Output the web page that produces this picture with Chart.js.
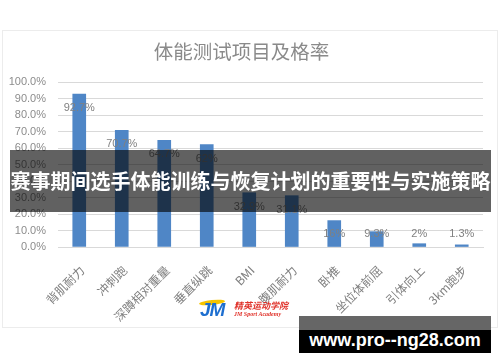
<!DOCTYPE html>
<html>
<head>
<meta charset="utf-8">
<script src="https://cdn.jsdelivr.net/npm/chart.js@4/dist/chart.umd.min.js"></script>
<style>
html,body{margin:0;padding:0;background:#fff;width:500px;height:362px;overflow:hidden;}
#wrap{position:relative;width:500px;height:362px;}
#c{position:absolute;left:0;top:0;}
.banner{position:absolute;left:10px;top:150px;width:481px;height:62px;background:rgba(0,0,0,0.62);color:#fff;font-family:"Noto Sans CJK SC",sans-serif;font-weight:bold;font-size:20px;line-height:62px;text-align:center;white-space:nowrap;letter-spacing:0;}
.wm-top{position:absolute;left:299px;top:316px;width:192px;height:14px;background:#666;}
.wm{position:absolute;left:299px;top:330px;width:192px;height:23px;background:#000;color:#fff;font-family:"Liberation Sans",Arial,sans-serif;font-weight:bold;font-size:18px;line-height:20px;text-align:center;white-space:nowrap;}
.logo{position:absolute;left:199px;top:299px;width:100px;height:20px;}
.logo .jm{position:absolute;left:1px;top:1px;font-family:"Liberation Sans",Arial,sans-serif;font-weight:bold;font-style:italic;font-size:19px;line-height:19px;color:#1e6fd0;letter-spacing:-1px;}
.logo .sw{position:absolute;left:0px;top:1px;width:26px;height:5px;border-radius:50%;background:#f5c400;transform:rotate(-6deg);}
.logo .cn{position:absolute;left:35px;top:2px;font-family:"Noto Sans CJK SC",sans-serif;font-weight:bold;font-style:italic;font-size:9px;line-height:10px;color:#e0322a;white-space:nowrap;}
.logo .en{position:absolute;left:35px;top:12px;font-family:"Liberation Serif",serif;font-weight:bold;font-style:italic;font-size:6px;line-height:6px;color:#e0322a;white-space:nowrap;}
</style>
</head>
<body>
<div id="wrap">
<canvas id="c" width="500" height="362"></canvas>
<div class="logo"><div class="sw"></div><div class="jm">JM</div><div class="cn">精英运动学院</div><div class="en">JM Sport Academy</div></div>
<div class="banner">赛事期间选手体能训练与恢复计划的重要性与实施策略</div>
<div class="wm-top"></div>
<div class="wm">www.pro--ng28.com</div>
</div>
<script>
const chartTitle = '体能测试项目及格率';
const categories = ['背肌耐力','冲刺跑','深蹲相对重量','垂直纵跳','BMI','腹肌耐力','卧推','坐位体前屈','引体向上','3km跑步'];
const passRates = [92.7, 70.7, 64.7, 62, 32.9, 31.1, 16, 9.3, 2, 1.3];
const rateLabels = ['92.7%','70.7%','64.7%','62%','32.9%','31.1%','16%','9.3%','2%','1.3%'];
const yTickValues = [0,10,20,30,40,50,60,70,80,90,100];

const cardPlugin = {
  id: 'card',
  beforeDraw(chart) {
    const ctx = chart.ctx;
    ctx.save();
    ctx.fillStyle = '#fff';
    ctx.fillRect(0, 0, chart.width, chart.height);
    ctx.strokeStyle = '#ececec';
    ctx.lineWidth = 1;
    ctx.strokeRect(2.5, 30.5, 495, 297);
    ctx.restore();
  }
};

const labelPlugin = {
  id: 'barLabels',
  afterDatasetsDraw(chart) {
    const ctx = chart.ctx;
    const meta = chart.getDatasetMeta(0);
    const yScale = chart.scales.y;
    const floorY = yScale.getPixelForValue(8);
    ctx.save();
    ctx.font = '11px "Liberation Sans", Arial, sans-serif';
    ctx.fillStyle = '#808080';
    ctx.textAlign = 'center';
    ctx.textBaseline = 'middle';
    meta.data.forEach((bar, i) => {
      const y = Math.min(bar.y + 14, floorY);
      ctx.fillText(rateLabels[i], bar.x, y);
    });
    ctx.restore();
  }
};

new Chart(document.getElementById('c'), {
  type: 'bar',
  data: {
    labels: categories,
    datasets: [{
      data: passRates,
      backgroundColor: '#4f86c6',
      borderWidth: 0,
      barThickness: 13
    }]
  },
  options: {
    responsive: false,
    animation: false,
    devicePixelRatio: 1,
    layout: { padding: { top: 0, right: 17, bottom: 0, left: 0 } },
    plugins: {
      legend: { display: false },
      tooltip: { enabled: false },
      title: {
        display: true,
        text: chartTitle,
        color: '#8a8a8a',
        font: { family: '"Noto Sans CJK SC", sans-serif', size: 19.5, weight: 'normal', lineHeight: 1.2 },
        padding: { top: 40, bottom: 18.6 }
      }
    },
    scales: {
      y: {
        min: 0,
        max: 100,
        afterBuildTicks(scale) { scale.ticks = yTickValues.map(v => ({ value: v })); },
        afterFit(scale) { scale.width = 58; },
        ticks: {
          callback: v => v.toFixed(1) + '%',
          color: '#8c8c8c',
          font: { family: '"Liberation Sans", Arial, sans-serif', size: 11 },
          padding: 12
        },
        grid: { color: '#d9d9d9', drawTicks: false },
        border: { display: false }
      },
      x: {
        afterFit(scale) { scale.height = 115; },
        ticks: {
          minRotation: 45,
          maxRotation: 45,
          color: '#7f7f7f',
          font: { family: '"Noto Sans CJK SC", sans-serif', size: 12 },
          padding: 8,
          labelOffset: 3
        },
        grid: { display: false },
        border: { color: '#d9d9d9' }
      }
    }
  },
  plugins: [cardPlugin, labelPlugin]
});
</script>
</body>
</html>
